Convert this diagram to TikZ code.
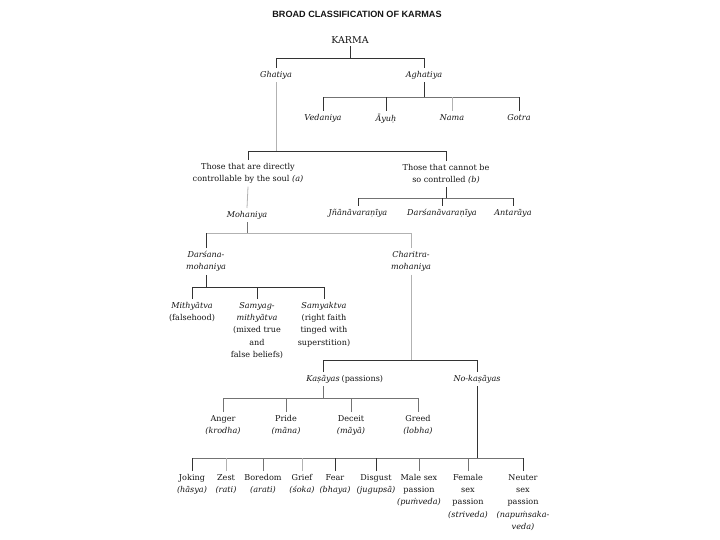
\documentclass[tikz,border=0pt]{standalone}
\usepackage{fontspec}
\setmainfont{DejaVu Serif}
\newfontfamily\titlefont{Liberation Sans}
\begin{document}
\begin{tikzpicture}[x=1pt,y=-1pt,
  every node/.style={inner xsep=1pt, inner ysep=3pt, anchor=north, align=center,
    font=\fontsize{8.1}{12.3}\selectfont, text=black!92},
  dk/.style={draw=black!80, line width=0.8pt},
  md/.style={draw=black!55, line width=0.8pt},
  lt/.style={draw=black!30, line width=0.8pt}]
\useasboundingbox (0,0) rectangle (720,540);
\coordinate (h1) at (0,58);
\coordinate (h2) at (0,97);
\coordinate (h3) at (0,151);
\coordinate (h4) at (0,198);
\coordinate (h5) at (0,233);
\coordinate (h6) at (0,287);
\coordinate (h7) at (0,360);
\coordinate (h8) at (0,398);
\coordinate (h9) at (0,458);
% nodes
\node[font=\titlefont\bfseries\fontsize{9.1}{10}\selectfont] (title) at (357,8) {BROAD CLASSIFICATION OF KARMAS};
\node[font=\fontsize{9.5}{11}\selectfont] (karma) at (350,33) {KARMA};
\node (ghat) at (276,68) {\textit{Ghatiya}};
\node (agha) at (424,68) {\textit{Aghatiya}};
\node (veda) at (323,111) {\textit{Vedaniya}};
\node (ayuh) at (386,111) {\textit{Āyuḥ}};
\node (nama) at (452,111) {\textit{Nama}};
\node (gotra) at (519,111) {\textit{Gotra}};
\node (a) at (248,160) {Those that are directly\\controllable by the soul \textit{(a)}};
\node (b) at (446,161) {Those that cannot be\\so controlled \textit{(b)}};
\node (moha) at (247,208) {\textit{Mohaniya}};
\node (jnana) at (358,206) {\textit{Jñānāvaraṇīya}};
\node (darsv) at (442,206) {\textit{Darśanāvaraṇīya}};
\node (anta) at (513,206) {\textit{Antarāya}};
\node (dmoha) at (206,248) {\textit{Darśana-}\\\textit{mohaniya}};
\node (cmoha) at (411,248) {\textit{Charitra-}\\\textit{mohaniya}};
\node (mith) at (192,299) {\textit{Mithyātva}\\(falsehood)};
\node (samm) at (257,299) {\textit{Samyag-}\\\textit{mithyātva}\\(mixed true\\and\\false beliefs)};
\node (samy) at (324,299) {\textit{Samyaktva}\\(right faith\\tinged with\\superstition)};
\node (kas) at (323,372) {\textit{Kaṣāyas}};
\node[anchor=north west, xshift=-0.5pt] (kasp) at (kas.north east) {(passions)};
\node (nokas) at (477,372) {\textit{No-kaṣāyas}};
\node (anger) at (223,412) {Anger\\\textit{(krodha)}};
\node (pride) at (286,412) {Pride\\\textit{(māna)}};
\node (deceit) at (351,412) {Deceit\\\textit{(māyā)}};
\node (greed) at (418,412) {Greed\\\textit{(lobha)}};
\node (joking) at (192,471) {Joking\\\textit{(hāsya)}};
\node (zest) at (226,471) {Zest\\\textit{(rati)}};
\node (bore) at (263,471) {Boredom\\\textit{(arati)}};
\node (grief) at (302,471) {Grief\\\textit{(śoka)}};
\node (fear) at (335,471) {Fear\\\textit{(bhaya)}};
\node (disg) at (376,471) {Disgust\\\textit{(jugupsā)}};
\node (male) at (419,471) {Male sex\\passion\\\textit{(puṁveda)}};
\node (female) at (468,471) {Female\\sex\\passion\\\textit{(striveda)}};
\node (neuter) at (523,471) {Neuter\\sex\\passion\\\textit{(napuṁsaka-}\\\textit{veda)}};
% connectors
\draw[dk] (karma.south) -- (karma.south |- h1);
\draw[dk] (ghat.north) |- (agha.north |- h1) -- (agha.north);
\draw[dk] (agha.south) -- (agha.south |- h2);
\draw[md] (veda.north |- h2) -- (gotra.north |- h2);
\draw[dk] (veda.north) -- (veda.north |- h2);
\draw[dk] (ayuh.north) -- (ayuh.north |- h2);
\draw[lt] (nama.north) -- (nama.north |- h2);
\draw[dk] (gotra.north) -- (gotra.north |- h2);
\draw[lt] (ghat.south) -- (ghat.south |- h3);
\draw[dk] (a.north) |- (b.north |- h3) -- (b.north);
\draw[lt] (a.south) -- (moha.north);
\draw[dk] (b.south) -- (b.south |- h4);
\draw[md] (jnana.north |- h4) -- (anta.north |- h4);
\draw[dk] (jnana.north) -- (jnana.north |- h4);
\draw[dk] (darsv.north) -- (darsv.north |- h4);
\draw[dk] (anta.north) -- (anta.north |- h4);
\draw[md] (moha.south) -- (moha.south |- h5);
\draw[lt] (dmoha.north |- h5) -- (cmoha.north |- h5);
\draw[dk] (dmoha.north) -- (dmoha.north |- h5);
\draw[lt] (cmoha.north) -- (cmoha.north |- h5);
\draw[dk] (dmoha.south) -- (dmoha.south |- h6);
\draw[dk] (mith.north) |- (samy.north |- h6) -- (samy.north);
\draw[dk] (samm.north) -- (samm.north |- h6);
\draw[lt] (cmoha.south) -- (cmoha.south |- h7);
\draw[dk] (kas.north) |- (nokas.north |- h7) -- (nokas.north);
\draw[md] (kas.south) -- (kas.south |- h8);
\draw[md] (anger.north) |- (greed.north |- h8) -- (greed.north);
\draw[md] (pride.north) -- (pride.north |- h8);
\draw[md] (deceit.north) -- (deceit.north |- h8);
\draw[dk] (nokas.south) -- (nokas.south |- h9);
\draw[md] (joking.north |- h9) -- (neuter.north |- h9);
\draw[dk] (joking.north) -- (joking.north |- h9);
\draw[lt] (zest.north) -- (zest.north |- h9);
\draw[md] (bore.north) -- (bore.north |- h9);
\draw[lt] (grief.north) -- (grief.north |- h9);
\draw[dk] (fear.north) -- (fear.north |- h9);
\draw[dk] (disg.north) -- (disg.north |- h9);
\draw[md] (male.north) -- (male.north |- h9);
\draw[md] (female.north) -- (female.north |- h9);
\draw[dk] (neuter.north) -- (neuter.north |- h9);
\end{tikzpicture}
\end{document}
